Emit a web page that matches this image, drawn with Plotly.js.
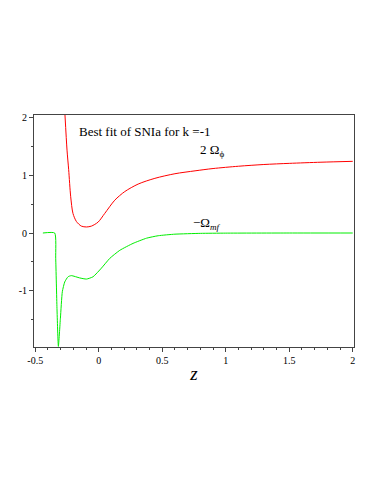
<!DOCTYPE html>
<html><head><meta charset="utf-8">
<script src="https://cdn.plot.ly/plotly-3.0.1.min.js"></script>
<style>html,body{margin:0;padding:0;background:#fff}#p{width:382px;height:494px}</style>
</head><body><div id="p"></div>
<script>
const redZ = [-0.266,-0.25,-0.237,-0.221,-0.203,-0.176,-0.137,-0.097,-0.058,-0.005,0.047,0.126,0.205,0.31,0.442,0.6,0.758,0.9,1.1,1.3,1.5,1.75,2.0];
const redVal = [2.05,1.44,1.10,0.63,0.34,0.20,0.12,0.105,0.12,0.19,0.34,0.57,0.72,0.85,0.95,1.03,1.08,1.12,1.16,1.19,1.21,1.23,1.245];
const greenZ = [-0.44,-0.347,-0.339,-0.329,-0.318,-0.302,-0.287,-0.268,-0.242,-0.216,-0.15,-0.097,-0.045,0.021,0.087,0.166,0.27,0.376,0.468,0.6,0.8,1.0,1.5,2.0];
const greenVal = [0,0,-0.44,-1.31,-1.97,-1.48,-1.02,-0.85,-0.76,-0.74,-0.78,-0.80,-0.76,-0.61,-0.44,-0.30,-0.18,-0.09,-0.047,-0.02,-0.006,-0.002,0,0];
const xTickVals = [-0.5,0,0.5,1,1.5,2];
const xTickText = ["-0.5","0","0.5","1","1.5","2"];
const yTickVals = [-1,0,1,2];
const yTickText = ["-1","0","1","2"];

const font = {family:"Liberation Serif, Times New Roman, serif", size:10, color:"#000"};
const traces = [
  {x:redZ, y:redVal, mode:"lines", line:{color:"#ff0000", width:1, shape:"spline", smoothing:0.8}, hoverinfo:"none"},
  {x:greenZ, y:greenVal, mode:"lines", line:{color:"#00ee00", width:1, shape:"spline", smoothing:0.5}, hoverinfo:"none"}
];
const axisCommon = {showgrid:false, zeroline:false, showline:true, linecolor:"#444", linewidth:1, mirror:true,
  ticks:"outside", ticklen:4, tickcolor:"#444", tickfont:font};
const layout = {
  width:382, height:494, paper_bgcolor:"#fff", plot_bgcolor:"#fff", showlegend:false,
  margin:{l:34, r:28, t:115, b:147},
  font:font,
  xaxis:Object.assign({}, axisCommon, {range:[-0.51,2.01], tickmode:"array", tickvals:xTickVals, ticktext:xTickText,
    minor:{dtick:0.1, ticks:"outside", ticklen:2, tickcolor:"#444"},
    title:{text:"<i>z</i>", font:{family:"Liberation Serif, serif", size:19, color:"#000"}, standoff:1}}),
  yaxis:Object.assign({}, axisCommon, {range:[-1.98,2.05], tickmode:"array", tickvals:yTickVals, ticktext:yTickText,
    minor:{dtick:0.5, ticks:"outside", ticklen:2, tickcolor:"#444"}}),
  annotations:[
    {x:-0.174, y:1.76, xref:"x", yref:"y", xanchor:"left", yanchor:"middle", showarrow:false,
     text:"Best fit of SNIa for k =-1", font:{family:"Liberation Serif, serif", size:13, color:"#000"}},
    {x:0.78, y:1.44, xref:"x", yref:"y", xanchor:"left", yanchor:"middle", showarrow:false,
     text:"2 Ω<sub>ϕ</sub>", font:{family:"Liberation Serif, serif", size:13, color:"#000"}},
    {x:0.725, y:0.17, xref:"x", yref:"y", xanchor:"left", yanchor:"middle", showarrow:false,
     text:"−Ω<sub><i>mf</i></sub>", font:{family:"Liberation Serif, serif", size:13, color:"#000"}}
  ]
};
Plotly.newPlot("p", traces, layout, {staticPlot:true, displayModeBar:false});
</script></body></html>
